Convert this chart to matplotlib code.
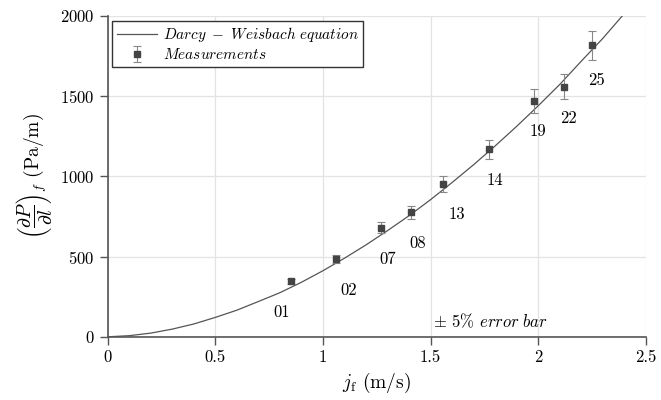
import matplotlib
matplotlib.use("Agg")
import matplotlib.pyplot as plt

plt.rcParams['font.family'] = ['cmr10', 'DejaVu Serif']
plt.rcParams['mathtext.fontset'] = 'cm'
plt.rcParams['axes.formatter.use_mathtext'] = True

# Darcy-Weisbach curve
curve_j = [0.0, 0.1, 0.2, 0.3, 0.4, 0.5, 0.6, 0.7, 0.8, 0.9, 1.0, 1.1, 1.2,
           1.3, 1.4, 1.5, 1.6, 1.7, 1.8, 1.9, 2.0, 2.1, 2.2, 2.3, 2.4]
curve_dp = [0, 7, 23, 48, 80, 121, 166, 220, 275, 340, 412, 490, 573,
            662, 755, 855, 962, 1073, 1190, 1312, 1440, 1573, 1718, 1860, 2015]

# measurements
meas_j = [0.85, 1.06, 1.27, 1.41, 1.56, 1.77, 1.98, 2.12, 2.25]
meas_dp = [345, 487, 680, 775, 952, 1170, 1470, 1560, 1818]
meas_ids = ["01", "02", "07", "08", "13", "14", "19", "22", "25"]
err_frac = 0.05

# label spots (data coords)
lab_j = [0.81, 1.12, 1.30, 1.44, 1.62, 1.80, 2.00, 2.14, 2.27]
lab_dp = [150, 287, 480, 580, 766, 978, 1283, 1364, 1601]

fig = plt.figure(figsize=(6.61, 4.0), dpi=100)
ax = fig.add_axes([0.163, 0.158, 0.814, 0.802])

ax.plot(curve_j, curve_dp, color='#555555', lw=0.9,
        label=r'$Darcy\ -\ Weisbach\ equation$')
errs = [v * err_frac for v in meas_dp]
ax.errorbar(meas_j, meas_dp, yerr=errs, fmt='s', ms=4, color='#444444',
            ecolor='#888888', elinewidth=0.8, capsize=3, capthick=0.8,
            label=r'$Measurements$')

for x, y, t in zip(lab_j, lab_dp, meas_ids):
    ax.text(x, y, t, ha='center', va='center', fontsize=12)

ax.text(1.78, 100, r'$\pm$ 5% $error\ bar$', ha='center', va='center', fontsize=12)

ax.set_xlim(0, 2.5)
ax.set_ylim(0, 2000)
ax.set_xticks([0, 0.5, 1, 1.5, 2, 2.5])
ax.set_xticklabels(['0', '0.5', '1', '1.5', '2', '2.5'])
ax.set_yticks([0, 500, 1000, 1500, 2000])
ax.grid(True, color='#e3e3e3', lw=0.9)
ax.set_axisbelow(True)
for s in ['top', 'right']:
    ax.spines[s].set_visible(False)
for s in ['left', 'bottom']:
    ax.spines[s].set_color('#555555')
    ax.spines[s].set_linewidth(1.2)
ax.tick_params(direction='out', length=6, width=1, color='#555555', labelsize=12)

ax.set_xlabel(r'$j_{\rm f}$ (m/s)', fontsize=14)
ax.set_ylabel(r'$\left(\dfrac{\partial P}{\partial l}\right)_f$ (Pa/m)', fontsize=14)

leg = ax.legend(loc='upper left', fontsize=11, fancybox=False, framealpha=1,
                edgecolor='#333333', handlelength=2.6, handletextpad=0.4,
                borderpad=0.3, labelspacing=0.2, borderaxespad=0.3)
leg.get_frame().set_linewidth(1.0)

fig.savefig('out.png', dpi=100)
